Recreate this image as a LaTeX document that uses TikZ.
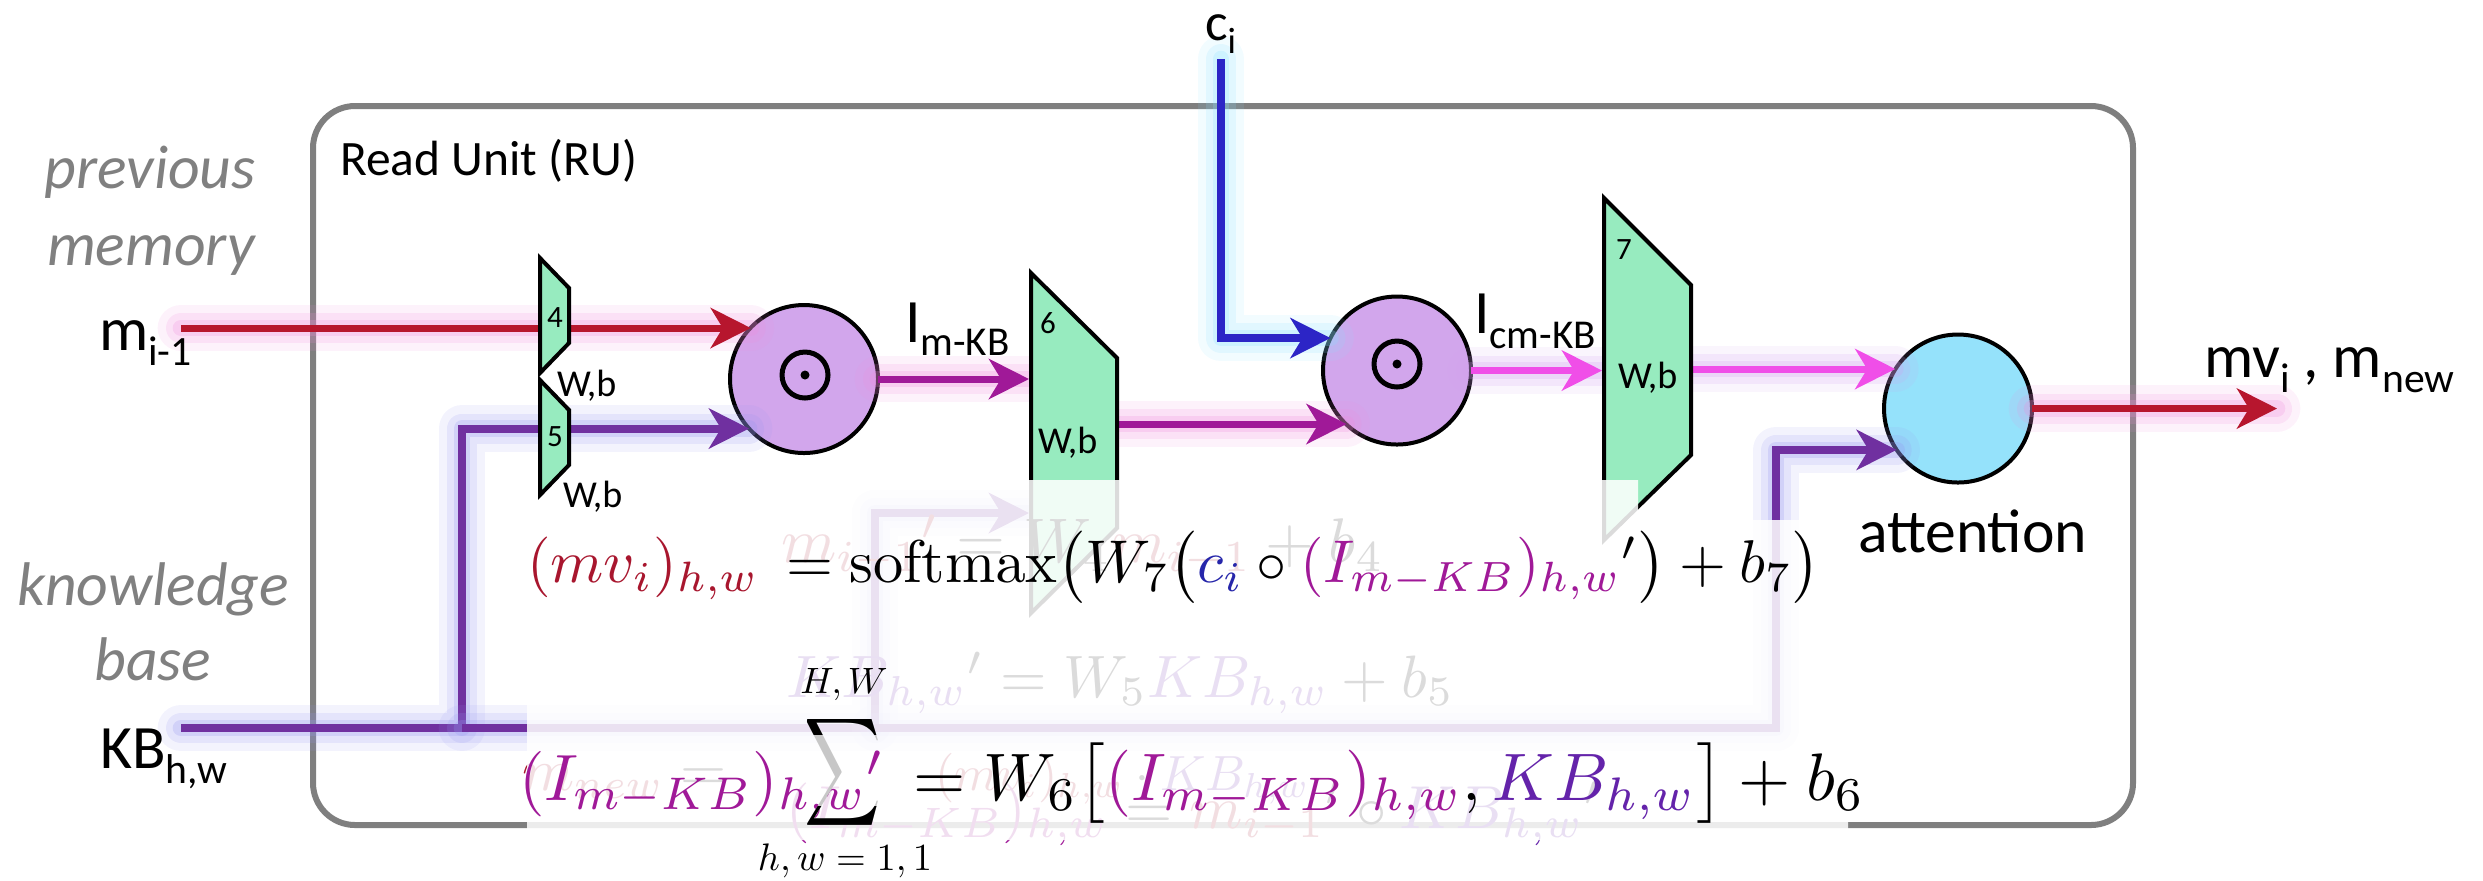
\RequirePackage{fix-cm}
\documentclass[tikz,border=0pt]{standalone}
\usepackage[no-math]{fontspec}
\setmainfont{Carlito}
\usepackage{graphicx}
\usetikzlibrary{arrows.meta}
\definecolor{redC}{RGB}{183,22,46}
\definecolor{magC}{RGB}{160,25,152}
\definecolor{pinkC}{RGB}{240,78,232}
\definecolor{blueC}{RGB}{44,37,198}
\definecolor{purpC}{RGB}{112,48,160}
\definecolor{greenF}{RGB}{151,235,191}
\definecolor{lilacF}{RGB}{210,166,236}
\definecolor{cyanF}{RGB}{149,226,251}
\definecolor{boxG}{RGB}{127,127,127}
\definecolor{sideG}{RGB}{128,128,128}
\definecolor{glowPink}{RGB}{240,140,220}
\definecolor{glowLav}{RGB}{150,150,240}
\definecolor{glowCyan}{RGB}{140,225,255}
\definecolor{glowLil}{RGB}{210,160,240}
\definecolor{eqR}{RGB}{168,22,46}
\definecolor{eqB}{RGB}{38,38,170}
\definecolor{eqM}{RGB}{160,25,152}
\definecolor{eqP}{RGB}{100,35,170}
\newlength\pxu
\setlength\pxu{0.3pt}
\newcommand{\myfs}[1]{\fontsize{#1}{#1}\selectfont}
\newcommand{\lsub}[1]{\raisebox{-4.5pt}{\myfs{12.5pt}#1}}
\tikzset{
  conn/.style={line width=2.1pt,-{Stealth[length=12pt,width=12pt,inset=3.6pt]}},
  glowy/.style={preaction={draw=#1,line width=14pt,opacity=.11,line cap=round,line join=round,-},
                preaction={draw=#1,line width=9pt,opacity=.17,line cap=round,line join=round,-},
                preaction={draw=#1,line width=5pt,opacity=.24,line cap=round,line join=round,-}},
  trapz/.style={draw=black,fill=greenF,line width=1.2pt,line join=miter},
  opnode/.style={circle,draw=black,line width=1.2pt,minimum size=44.4pt,inner sep=0pt},
  lbl/.style={anchor=base west,inner sep=0pt,font=\myfs{18.5pt}},
  side/.style={anchor=base,inner sep=0pt,text=sideG,font=\myfs{18.5pt}\itshape},
  wb/.style={anchor=base west,inner sep=0pt,font=\myfs{11.4pt}},
  num/.style={inner sep=0pt,font=\myfs{9.3pt}},
  eqn/.style={anchor=base west,inner sep=0pt}
}
\begin{document}
\begin{tikzpicture}[x=0.3pt,y=-0.3pt,inner sep=0pt,outer sep=0pt]
\useasboundingbox (0,0) rectangle (2483,880);
% frame
\node[draw=boxG,line width=1.8pt,rounded corners=12.6pt,minimum width=546pt,minimum height=215.7pt] (ru) at (1223,465.5) {};
\node[lbl] (rulbl) at (340,175) {\myfs{14.85pt}Read Unit (RU)};
% operators
\node[opnode,fill=lilacF] (c1) at (804,379) {};
\node[opnode,fill=lilacF] (c2) at (1397,370.5) {};
\node[opnode,fill=cyanF] (att) at (1958,408.5) {};
% coordinates
\coordinate (mS) at (181,328);
\coordinate (kbS) at (181,728);
\coordinate (kbA) at (462,728);
\coordinate (kbB) at (875,728);
\coordinate (kbC) at (1776,728);
\coordinate (t6k) at (1029,513);
\coordinate (ciS) at (1221,59);
\coordinate (t6a) at (1029,380);
\coordinate (t6o) at (1117,424);
\coordinate (t7a) at (1602,370);
\coordinate (t7o) at (1691,369);
\coordinate (outE) at (2277,409);
% connectors
\draw[conn,redC,glowy=glowPink] (mS) -- (c1.136 |- mS);
\draw[conn,purpC,line width=2.4pt,glowy=glowLav] (kbS) -- (kbA) |- (c1.222);
\draw[conn,purpC,line width=2.4pt,glowy=glowLav] (kbA) -- (kbB) |- (t6k);
\draw[conn,purpC,line width=2.4pt,glowy=glowLav] (kbB) -- (kbC) |- (att.214);
\draw[conn,blueC,line width=2.4pt,glowy=glowCyan] (ciS) |- (c2.154);
\draw[conn,magC,glowy=glowPink] (c1.east) -- (c1.east -| t6a);
\draw[conn,magC,glowy=glowPink] (t6o) -- (c2.227 |- t6o);
\draw[conn,pinkC,glowy=glowLil] (c2.east) -- (c2.east -| t7a);
\draw[conn,pinkC,glowy=glowLil] (t7o) -- (att.148 |- t7o);
\draw[conn,redC,glowy=glowPink] (att.east) -- (att.east -| outE);
% odot marks
\draw[line width=1.5pt] (805,375) circle[radius=23];
\fill (805,375) circle[radius=4.5];
\draw[line width=1.5pt] (1397,364) circle[radius=23];
\fill (1397,364) circle[radius=4.5];
% layers (trapezoids)
\draw[trapz] (540,258) -- (569,288) -- (569,343) -- (540,373) -- cycle;
\draw[trapz] (540,380) -- (569,410) -- (569,465) -- (540,495) -- cycle;
\draw[trapz] (1031,273) -- (1117,358) -- (1117,528) -- (1031,613) -- cycle;
\draw[trapz] (1604,198) -- (1691,285) -- (1691,455) -- (1604,540) -- cycle;
\node[num] (n4) at (555,318) {4};
\node[num] (n5) at (555,437) {5};
\node[num] (n6) at (1048,323) {6};
\node[num] (n7) at (1624,250) {7};
\node[wb] (wb4) at (557,396) {W,b};
\node[wb] (wb5) at (563,507) {W,b};
\node[wb] (wb6) at (1038,453) {W,b};
\node[wb] (wb7) at (1618,388) {W,b};
% labels
\node[side] (prev) at (150,188) {previous};
\node[side] (mem) at (151,265) {memory};
\node[side] (know) at (153,605) {knowledge};
\node[side] (base) at (153,680) {base};
\node[lbl] (mlbl) at (99,350) {m\lsub{i-1}};
\node[lbl] (kblbl) at (100,768) {KB\lsub{h,w}};
\node[lbl] (cilbl) at (1205,40) {\myfs{16pt}c\raisebox{-3.9pt}{\myfs{11pt}i}};
\node[lbl] (imkb) at (905,342) {I\raisebox{-3.9pt}{\myfs{12.3pt}m-KB}};
\node[lbl] (icmkb) at (1474,333) {I\raisebox{-4.5pt}{\myfs{12.3pt}cm-KB}};
\node[lbl] (outlbl) at (2204,377) {mv\lsub{i} , m\lsub{new}};
\node[lbl] (attlbl) at (1858,552) {attention};
% ghost equations (underneath the translucent panel)
\node[eqn] (g1) at (781,562) {\resizebox{603\pxu}{!}{$\textcolor{eqR}{m_{i-1}{}'}=W_4\textcolor{eqR}{m_{i-1}}+b_4$}};
\node[eqn] (g2) at (786,697) {\resizebox{668\pxu}{!}{$\textcolor{eqP}{KB_{h,w}}{}'=W_5\textcolor{eqP}{KB_{h,w}}+b_5$}};
\node[eqn] (g3a) at (522,790) {\resizebox{205\pxu}{!}{$\textcolor{eqR}{m_{new}}=$}};
\node[eqn] (g3b) at (935,790) {\resizebox{375\pxu}{!}{$\textcolor{eqR}{(mv_i)_{h,w}}\cdot\textcolor{eqP}{KB_{h,w}}$}};
\node[eqn] (g4) at (786,828) {\resizebox{815\pxu}{!}{$\textcolor{eqM}{(I_{m-KB})_{h,w}}=\textcolor{eqR}{m_{i-1}}{}'\circ\textcolor{eqP}{KB_{h,w}}{}'$}};
% translucent panel
\fill[white,opacity=.86] (527,705) -- (760,705) -- (760,480) -- (1638,480) -- (1638,520) -- (1848,520) -- (1848,840) -- (527,840) -- cycle;
% equations
\node[eqn] (e1a) at (527,582) {\resizebox{232\pxu}{!}{$\color{eqR}(mv_i)_{h,w}$}};
\node[eqn] (e1b) at (786,582) {\resizebox{1034\pxu}{!}{$=\mathrm{softmax}\bigl(W_7\bigl(\textcolor{eqB}{c_i}\circ\textcolor{eqM}{(I_{m-KB})_{h,w}}{}'\bigr)+b_7\bigr)$}};
\node[eqn] (e2a) at (519,800) {\resizebox{366\pxu}{!}{$\color{eqM}(I_{m-KB})_{h,w}{}'$}};
\node[eqn] (e2b) at (913,800) {\resizebox{952\pxu}{!}{$=W_6\bigl[\textcolor{eqM}{(I_{m-KB})_{h,w}},\textcolor{eqP}{KB_{h,w}}\bigr]+b_6$}};
% summation sign
\node[text=black!22] (sigA) at (842.5,772.5) {\resizebox*{23.1pt}{36.3pt}{$\displaystyle\sum$}};
\begin{scope}
\clip (780,700) rectangle (900,734);
\node[text=black] (sigB) at (842.5,772.5) {\resizebox*{23.1pt}{36.3pt}{$\displaystyle\sum$}};
\end{scope}
\begin{scope}
\clip (780,806) rectangle (900,845);
\node[text=black] (sigC) at (842.5,772.5) {\resizebox*{23.1pt}{36.3pt}{$\displaystyle\sum$}};
\end{scope}
\node[anchor=base] (sigU) at (844,693) {\myfs{11pt}$H,W$};
\node[anchor=base] (sigL) at (845,870) {\myfs{11.5pt}$h,w=1,1$};
\end{tikzpicture}
\end{document}
